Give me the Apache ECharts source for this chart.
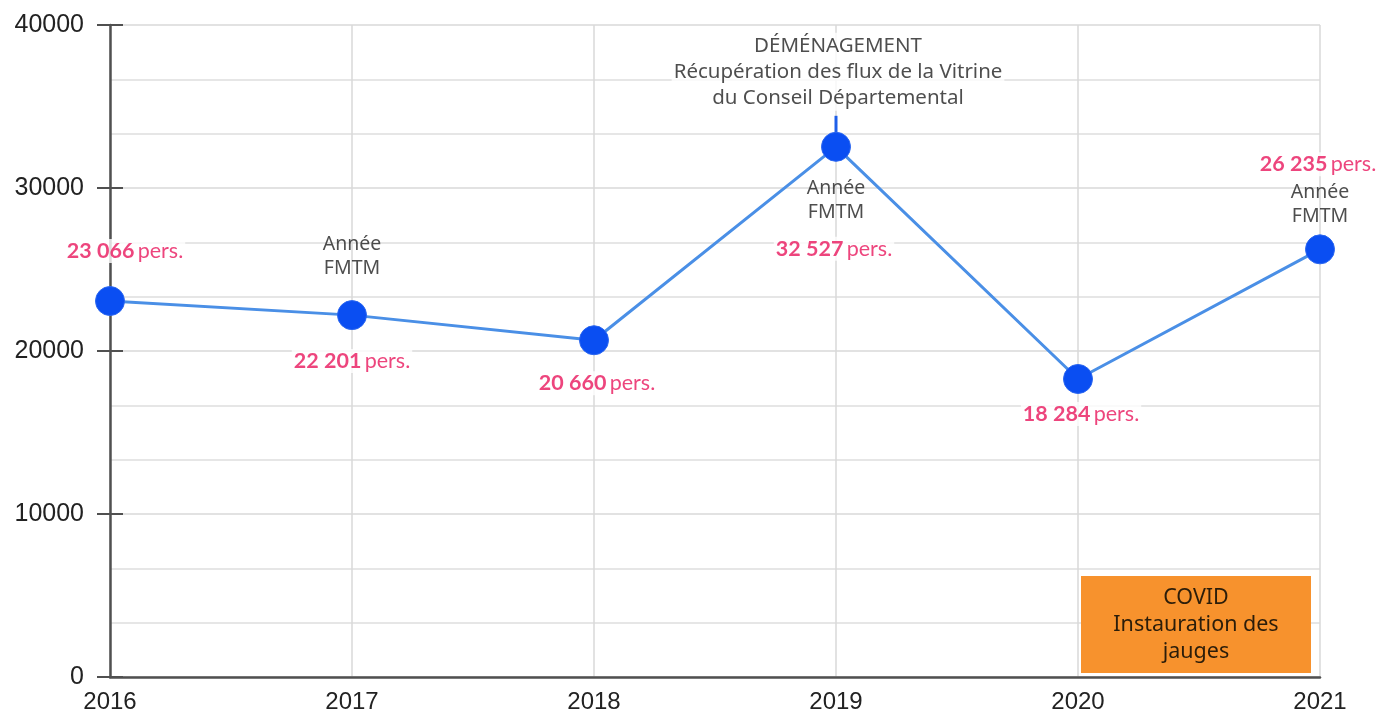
<!DOCTYPE html>
<html>
<head>
<meta charset="utf-8">
<script src="https://cdn.jsdelivr.net/npm/echarts@6/dist/echarts.min.js"></script>
<style>
html,body{margin:0;padding:0;background:#fff;}
#chart{width:1383px;height:724px;}
</style>
</head>
<body>
<div id="chart"></div>
<script>
// ---- data ----
const years = ['2016', '2017', '2018', '2019', '2020', '2021'];
const visitors = [23066, 22201, 20660, 32527, 18284, 26235];
const yTicks = [0, 10000, 20000, 30000, 40000];
const fmtmYears = ['2017', '2019', '2021'];
const fmtmNote = ['Année', 'FMTM'];
const moveYear = '2019';
const moveNote = ['DÉMÉNAGEMENT', 'Récupération des flux de la Vitrine', 'du Conseil Départemental'];
const covidYears = ['2020', '2021'];
const covidNote = ['COVID', 'Instauration des', 'jauges'];
const yMin = 0, yMax = 40000, yStep = 10000;

// ---- layout (pixel offsets of annotations) ----
const valueLabelOffsets = [[15, -50], [0, 46], [3, 43], [-2, 102], [3, 35], [-2, -85]];
const fmtmOffsets = [[0, -59], [0, 54], [0, -45]];
const moveOffset = [2, -75];

const RED = '#e8175d';
const AXIS = '#505050';
const fmtNum = v => String(v).replace(/\B(?=(\d{3})+(?!\d))/g, ' ');

const chart = echarts.init(document.getElementById('chart'), null, {renderer: 'canvas'});

const option = {
  animation: false,
  backgroundColor: '#fff',
  grid: {left: 110, right: 63, top: 25, bottom: 47, containLabel: false},
  xAxis: {
    type: 'category',
    data: years,
    boundaryGap: false,
    axisLine: {show: true, lineStyle: {color: AXIS, width: 2.5}},
    axisTick: {show: false},
    axisLabel: {fontFamily: 'Liberation Sans', fontSize: 24, color: '#222', margin: 13},
    splitLine: {show: true, lineStyle: {color: '#d8d8d8', width: 1.5}}
  },
  yAxis: {
    type: 'value', min: yMin, max: yMax, interval: yStep,
    axisLine: {show: true, lineStyle: {color: AXIS, width: 2.5}},
    axisTick: {show: true, length: 13, lineStyle: {color: AXIS, width: 2}},
    axisLabel: {fontFamily: 'Liberation Sans', fontSize: 25, color: '#222', margin: 26,
                formatter: v => String(v)},
    splitLine: {show: true, lineStyle: {color: '#e2e2e2', width: 2}},
    minorTick: {show: false, splitNumber: 3},
    minorSplitLine: {show: true, lineStyle: {color: '#e6e6e6', width: 2}}
  },
  series: [
    {
      type: 'line',
      data: visitors,
      symbol: 'circle',
      symbolSize: 29,
      itemStyle: {color: '#0a4ef2', borderColor: '#2a66f0', borderWidth: 1},
      lineStyle: {color: '#4a8fe6', width: 3},
      z: 3,
      silent: true
    },
    {
      type: 'scatter',
      silent: true,
      symbolSize: 1,
      itemStyle: {color: 'rgba(0,0,0,0)'},
      z: 10,
      data: visitors.map((v, i) => ({
        value: [years[i], v],
        label: {offset: valueLabelOffsets[i]}
      })),
      label: {
        show: true,
        position: 'inside',
        formatter: p => '{b|' + fmtNum(p.value[1]) + '} {n|pers.}',
        backgroundColor: '#fff',
        padding: [1, 2],
        rich: {
          b: {fontFamily: 'Lato', fontWeight: 'bold', fontSize: 21.5, color: RED},
          n: {fontFamily: 'Lato', fontSize: 21.5, color: RED}
        }
      }
    },
    {
      type: 'scatter',
      silent: true,
      symbolSize: 1,
      itemStyle: {color: 'rgba(0,0,0,0)'},
      z: 9,
      data: fmtmYears.map((y, i) => ({
        value: [y, visitors[years.indexOf(y)]],
        label: {offset: fmtmOffsets[i]}
      })),
      label: {
        show: true,
        position: 'inside',
        formatter: fmtmNote.join('\n'),
        fontFamily: 'Noto Sans',
        fontSize: 19.5,
        lineHeight: 24,
        color: '#222',
        align: 'center'
      }
    },
    {
      type: 'scatter',
      silent: true,
      symbolSize: 1,
      itemStyle: {color: 'rgba(0,0,0,0)'},
      z: 9,
      data: [{value: [moveYear, visitors[years.indexOf(moveYear)]], label: {offset: moveOffset}}],
      label: {
        show: true,
        position: 'inside',
        formatter: moveNote.join('\n'),
        fontFamily: 'Noto Sans',
        fontSize: 20.5,
        lineHeight: 26,
        color: '#222',
        align: 'center',
        backgroundColor: '#fff',
        padding: [0, 2]
      }
    }
  ]
};
chart.setOption(option);

// ---- annotations positioned through the chart's own scales ----
const toPx = (x, y) => chart.convertToPixel({xAxisIndex: 0, yAxisIndex: 0}, [x, y]);
const pMove = toPx(moveYear, visitors[years.indexOf(moveYear)]);
const pA = toPx(covidYears[0], yMin);
const pB = toPx(covidYears[1], yMin);
const boxX = pA[0] + 3, boxW = (pB[0] - 9) - boxX;
const boxY = pA[1] - 101, boxH = 97;

const tickLines = yTicks.map(t => {
  const p = toPx(years[0], t);
  return {
    type: 'line', z: 50, silent: true,
    shape: {x1: p[0], y1: p[1], x2: p[0] + 13, y2: p[1]},
    style: {stroke: AXIS, lineWidth: 2}
  };
});

chart.setOption({
  graphic: tickLines.concat([
    {
      type: 'line', z: 2, silent: true,
      shape: {x1: pMove[0], y1: pMove[1] - 31, x2: pMove[0], y2: pMove[1] - 12},
      style: {stroke: '#1f5fe8', lineWidth: 3}
    },
    {
      type: 'rect', z: 20, silent: true,
      shape: {x: boxX, y: boxY, width: boxW, height: boxH},
      style: {fill: '#f7922d'}
    },
    {
      type: 'text', z: 21, silent: true,
      x: boxX + boxW / 2, y: boxY + boxH / 2,
      style: {
        text: covidNote.join('\n'),
        fontFamily: 'Noto Sans', fontSize: 21.5, lineHeight: 27,
        fill: '#2b1d0a', align: 'center', verticalAlign: 'middle'
      }
    }
  ])
});
</script>
</body>
</html>
